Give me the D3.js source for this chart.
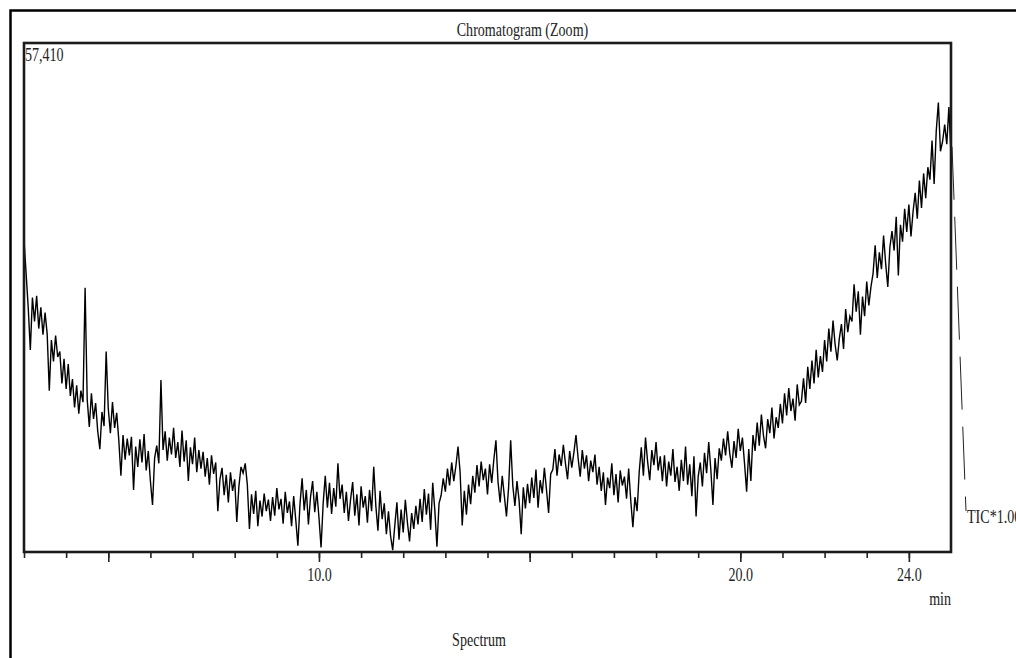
<!DOCTYPE html>
<html>
<head>
<meta charset="utf-8">
<script src="https://cdn.jsdelivr.net/npm/d3@7"></script>
<style>
  body { margin: 0; background: #fff; }
  text { font-family: "Liberation Serif", "Times New Roman", serif; fill: #222; }
</style>
</head>
<body>
<div id="chart"></div>
<script>
// TIC trace, thousands of counts, one scan every 0.05 min starting at 3.00 min
const scanStart = 3.0;
const scanStep = 0.05;

// 3.00 - 7.95 min
const ticSeg1 = [
  35.2, 31.4, 27.6, 22.8, 28.7, 26.0, 28.9, 25.2, 27.6, 24.5,
  27.0, 24.6, 18.2, 23.9, 21.5, 24.4, 22.0, 22.6, 19.0, 21.8,
  18.4, 21.2, 17.6, 19.5, 16.3, 18.8, 15.6, 18.2, 16.9, 29.8,
  17.2, 14.1, 17.9, 15.0, 16.8, 13.6, 11.6, 15.8, 14.2, 22.6,
  16.2, 13.4, 16.9, 14.0, 15.7, 12.6, 8.6, 13.2, 10.4, 12.8,
  10.9, 13.0, 7.0, 11.9, 9.6, 12.7, 10.1, 13.3, 9.2, 11.4,
  8.0, 5.3, 10.6, 12.0, 10.0, 19.4, 11.5, 13.6, 10.3, 12.9,
  11.0, 14.0, 10.6, 12.4, 9.6, 13.7, 10.2, 12.6, 8.0, 11.8,
  9.9, 12.9, 9.0, 11.5, 9.4, 11.3, 8.5, 10.6, 7.6, 10.9,
  8.8, 10.1, 4.6, 8.2, 9.5, 6.4, 8.7, 5.6, 9.0, 6.9
];
// 8.00 - 12.95 min
const ticSeg2 = [
  8.2, 3.4, 7.4, 9.6, 8.9, 10.0, 7.6, 2.6, 6.5, 4.3,
  6.9, 2.9, 5.8, 4.0, 6.6, 4.6, 5.9, 3.5, 6.2, 4.1,
  7.2, 4.8, 6.0, 3.2, 6.8, 4.4, 5.7, 2.9, 6.3, 3.6,
  0.7, 5.4, 8.3, 4.7, 7.0, 3.1, 6.2, 8.0, 4.5, 6.8,
  3.9, 0.5, 5.5, 8.6, 5.0, 7.8, 4.3, 7.2, 5.1, 10.0,
  6.0, 7.6, 4.4, 6.8, 3.5, 5.9, 7.9, 4.1, 6.5, 3.0,
  7.4, 5.0, 6.3, 3.3, 7.0, 4.6, 9.6, 5.2, 2.4, 6.9,
  3.7, 5.5, 2.0, 4.6, 1.8, 0.2, 3.0, 5.6, 1.4, 4.8,
  2.2, 5.9, 3.3, 1.2, 4.4, 2.6, 5.2, 3.1, 6.0, 3.4,
  7.1, 4.2, 6.6, 2.5, 7.8, 4.7, 0.6, 5.5, 6.4, 8.3
];
// 13.00 - 17.95 min
const ticSeg3 = [
  6.8, 9.4, 7.5, 10.1, 8.0, 9.7, 11.9, 9.0, 3.0, 6.9,
  4.2, 7.6, 5.4, 8.6, 6.7, 9.8, 7.4, 10.2, 8.1, 9.4,
  6.5, 9.9, 7.8, 10.4, 12.6, 7.9, 5.6, 8.6, 6.3, 4.0,
  7.2, 12.6, 7.5, 5.2, 8.0, 5.8, 2.0, 7.3, 4.9, 7.7,
  5.5, 8.4, 6.1, 9.3, 5.0, 8.1, 6.6, 9.5, 7.0, 4.4,
  8.8, 9.3, 11.6, 8.6, 11.0, 9.7, 12.1, 10.0, 8.2, 11.4,
  9.5, 11.2, 13.2, 10.6, 8.5, 11.5, 9.4, 10.9, 8.0, 10.3,
  9.0, 11.0, 7.6, 9.6, 6.9, 9.0, 5.3, 8.4, 7.2, 10.0,
  6.4, 8.8, 5.6, 9.2, 7.5, 8.5, 6.0, 9.4, 5.8, 2.8,
  6.2, 4.6, 9.0, 11.8, 8.6, 12.9, 10.2, 8.1, 11.5, 9.8
];
// 18.00 - 22.95 min
const ticSeg4 = [
  12.4, 9.2, 10.8, 8.0, 10.9, 7.4, 10.2, 8.6, 11.6, 7.9,
  9.6, 6.9, 10.4, 8.0, 11.9, 7.6, 9.9, 6.3, 10.8, 4.0,
  8.5, 10.1, 7.4, 11.2, 8.9, 12.4, 9.3, 5.3, 10.6, 8.2,
  11.7, 10.3, 12.8, 10.9, 13.6, 11.1, 9.5, 12.5, 10.6, 13.9,
  11.4, 12.9, 10.0, 6.8, 11.6, 8.0, 13.2, 11.4, 14.6, 12.0,
  15.5, 13.1, 11.7, 15.0, 13.4, 16.3, 12.8, 15.2, 14.0, 16.7,
  14.5, 17.9, 15.4, 18.5, 15.9, 17.3, 14.8, 18.9, 16.6, 17.0,
  19.6, 16.8, 20.9, 18.4, 21.6, 19.0, 22.8, 19.7, 22.1, 20.3,
  23.9, 21.5, 25.2, 22.6, 26.1, 23.4, 21.6, 24.1, 25.7, 22.9,
  27.4, 24.8, 26.6, 26.0, 30.2, 27.1, 29.4, 24.5, 28.8, 26.6
];
// 23.00 - 25.00 min
const ticSeg5 = [
  30.5, 27.8, 29.9, 31.4, 34.6, 30.9, 33.8, 31.9, 35.7, 32.5,
  29.9, 34.4, 36.2, 34.0, 37.8, 31.2, 36.9, 35.0, 38.7, 36.1,
  39.2, 35.6, 38.4, 40.5, 37.6, 41.9, 38.8, 42.7, 39.9, 43.4,
  42.0, 46.4, 41.5, 47.5, 50.7, 45.2, 46.3, 48.2, 46.0, 50.2, 44.8
];

const minorTicks = [3, 4, 5, 6, 7, 8, 9, 10, 11, 12, 13, 14, 15, 16, 17, 18, 19, 20, 21, 22, 23, 24];
const majorTicks = [5, 10, 15, 20, 24];
const labelTicks = [10, 20, 24];
const timeRange = [3, 25];
const yMax = 57.41;   // full scale, shown as 57,410

const title = "Chromatogram (Zoom)";
const traceName = "TIC*1.00";

const width = 1016, height = 658;
const plot = { left: 24, top: 43, right: 951, bottom: 552 };
const squeeze = "scale(0.74,1)";   // narrow serif look of the original

const svg = d3.select("#chart").append("svg")
  .attr("width", width)
  .attr("height", height);

// outer frame runs off the page on the right and bottom
svg.append("rect")
  .attr("x", 10.5).attr("y", 10.5)
  .attr("width", 1100).attr("height", 700)
  .attr("fill", "none")
  .attr("stroke", "#000")
  .attr("stroke-width", 2.5);

const x = d3.scaleLinear().domain(timeRange).range([plot.left, plot.right]);
const y = d3.scaleLinear().domain([0, yMax]).range([plot.bottom, plot.top]);

const tic = [...ticSeg1, ...ticSeg2, ...ticSeg3, ...ticSeg4, ...ticSeg5]
  .map((v, i) => ({ t: scanStart + i * scanStep, v }));

// trace
const line = d3.line().x(d => x(d.t)).y(d => y(d.v));
svg.append("path")
  .datum(tic)
  .attr("d", line)
  .attr("fill", "none")
  .attr("stroke", "#000")
  .attr("stroke-width", 1.4)
  .attr("stroke-linejoin", "miter");

// minor ticks
const gMinor = svg.append("g")
  .attr("transform", `translate(0,${plot.bottom})`)
  .call(d3.axisBottom(x).tickValues(minorTicks).tickSize(6).tickFormat(""));
gMinor.select(".domain").remove();

// major ticks with labels
const gMajor = svg.append("g")
  .attr("transform", `translate(0,${plot.bottom})`)
  .call(d3.axisBottom(x).tickValues(majorTicks).tickSize(10).tickPadding(6)
    .tickFormat(d => labelTicks.includes(d) ? d3.format(".1f")(d) : ""));
gMajor.select(".domain").remove();
gMajor.selectAll("text")
  .attr("transform", squeeze)
  .style("font-size", "19px")
  .style("font-family", "'Liberation Serif', serif")
  .attr("fill", "#222");
svg.selectAll(".tick line").attr("stroke", "#222").attr("stroke-width", 1.6);

// plot frame
svg.append("rect")
  .attr("x", plot.left).attr("y", plot.top)
  .attr("width", plot.right - plot.left)
  .attr("height", plot.bottom - plot.top)
  .attr("fill", "none")
  .attr("stroke", "#1b1b1b")
  .attr("stroke-width", 2.6);

// texts
const addText = (str, tx, ty, anchor) => svg.append("text")
  .attr("transform", `translate(${tx},${ty}) ${squeeze}`)
  .attr("text-anchor", anchor)
  .style("font-size", "19px")
  .text(str);

addText(title, (plot.left + plot.right) / 2 + 35, 36, "middle");
addText(d3.format(",")(Math.round(yMax * 1000)), plot.left + 1, 61, "start");
addText("min", plot.right, 605, "end");
addText("Spectrum", 479, 646, "middle");

// leader from the trace end down to the trace name
const last = tic[tic.length - 1];
const tagX = plot.right + 15, tagY = 511;
svg.append("line")
  .attr("x1", x(last.t) + 1).attr("y1", y(last.v) - 8)
  .attr("x2", tagX).attr("y2", tagY)
  .attr("stroke", "#222")
  .attr("stroke-width", 1)
  .attr("stroke-dasharray", "53,17");
addText(traceName, tagX + 1, 523, "start");
</script>
</body>
</html>
